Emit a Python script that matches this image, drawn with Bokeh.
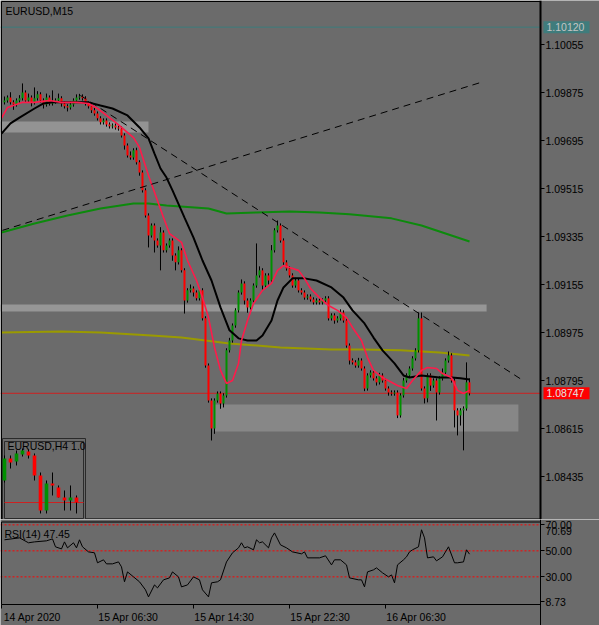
from bokeh.plotting import figure
from bokeh.layouts import column
from bokeh.models import Range1d, FixedTicker, Label, ColumnDataSource, PrintfTickFormatter
from bokeh.embed import file_html
from bokeh.resources import INLINE

# ---------------- data ----------------
title_main = "EURUSD,M15"
title_mini = "EURUSD,H4 1.0"
rsi_title = "RSI(14) 47.45"
level_top_price = 1.10120
current_price = 1.08747

# M15 closes in points (1e-5)
open_first_pts = 109838
close_pts = [
    109845, 109856, 109838, 109830, 109845, 109853, 109875, 109845, 109856, 109838,
    109853, 109868, 109845, 109830, 109856, 109834, 109841, 109845,
    109853, 109834, 109823, 109819, 109830, 109845, 109856, 109860, 109853, 109834,
    109823, 109808, 109796, 109778, 109763, 109770, 109755, 109748, 109751, 109744, 109740,
    109714, 109676, 109639, 109631, 109658, 109613, 109575, 109508, 109414, 109339, 109376, 109320,
    109301, 109350, 109283, 109301, 109320, 109264, 109238, 109283, 109208, 109095, 109133,
    109140, 109125, 109103, 109133, 109028, 108851, 108720, 108615, 108720, 108746, 108709,
    108739, 108908, 108945, 109001, 109058, 109125, 109159, 109095, 109069, 109095, 109151,
    109189, 109208, 109151, 109189, 109170,
    109283, 109358, 109376, 109320, 109238, 109215, 109189, 109151, 109170, 109133, 109125,
    109106, 109110, 109099, 109088, 109095, 109088, 109095, 109103,
    109028, 109039, 109020, 109028, 109050, 109020, 108926, 108870, 108863, 108851, 108870, 108840,
    108765, 108814, 108825, 108803, 108788, 108814, 108795, 108765, 108750, 108746, 108750,
    108664, 108739, 108795, 108814,
    108840, 108878, 108908, 109028, 108765, 108728, 108814, 108776, 108795, 108750, 108803,
    108825, 108870, 108889, 108795,
    108683, 108664, 108683, 108690, 108788, 108747,
]
upper_wick_pts = [
    15, 8, 20, 8, 8, 12, 34, 8, 15, 8,
    41, 12, 8, 8, 15, 8, 42, 8, 18, 8,
    8, 8, 12, 8, 12, 10, 8, 8, 8, 8,
    10, 8, 8, 8, 8, 8, 8, 8, 8, 8,
    8, 8, 15, 8, 10, 8, 8, 8, 8, 8,
    8, 8, 20, 8, 8, 8, 8, 8, 15, 8,
    8, 8, 15, 8, 8, 10, 8, 8, 8, 8,
    8, 8, 8, 8, 8, 10, 8, 8, 8, 15,
    8, 8, 8, 8, 120, 15, 8, 8, 8, 20,
    8, 19, 8, 8, 8, 8, 8, 10, 8, 8,
    8, 8, 8, 8, 8, 8, 8, 8, 8, 8,
    8, 8, 12, 8, 8, 8, 8, 8, 10, 8,
    8, 8, 8, 8, 8, 10, 8, 8, 8, 8,
    8, 8, 8, 10, 8, 8, 8, 8, 22, 22,
    8, 8, 8, 8, 8, 8, 15, 8, 15, 8,
    8, 8, 8, 8, 75, 15,
]
lower_wick_pts = [
    8, 8, 8, 20, 8, 8, 8, 8, 8, 15,
    8, 8, 8, 15, 8, 8, 8, 8, 8, 12,
    8, 15, 8, 8, 8, 8, 8, 8, 8, 10,
    8, 8, 8, 8, 8, 8, 8, 8, 8, 8,
    15, 8, 8, 8, 8, 12, 8, 8, 45, 8,
    45, 8, 93, 8, 8, 8, 20, 30, 8, 8,
    49, 8, 8, 15, 8, 8, 8, 8, 8, 45,
    20, 8, 20, 15, 8, 8, 8, 8, 8, 8,
    15, 20, 8, 8, 8, 8, 20, 8, 15, 8,
    8, 8, 8, 12, 8, 8, 8, 8, 8, 8,
    8, 8, 8, 8, 8, 8, 8, 8, 8, 8,
    12, 8, 8, 8, 8, 15, 8, 8, 8, 8,
    10, 8, 8, 8, 12, 8, 8, 8, 12, 8,
    8, 10, 8, 8, 8, 8, 8, 8, 8, 8,
    19, 15, 20, 8, 105, 8, 8, 8, 8, 8,
    64, 75, 38, 150, 8, 8,
]

# moving averages (bar index, points)
red_ma_bars = [-1, 1, 3, 6, 10, 15, 19, 24, 28, 31, 34, 37, 39, 43, 45, 48, 53, 55, 59, 61,
               64, 66, 68, 70, 72, 74, 76, 78, 79, 81, 83, 86, 89, 91, 93, 95, 98, 100, 102, 105,
               108, 111, 114, 116, 119, 121, 123, 126, 131, 134, 136, 139, 141, 144, 146, 149,
               151, 153, 155]
red_ma_pts = [109779, 109819, 109826, 109838, 109838, 109845, 109838, 109838, 109834, 109815,
              109789, 109763, 109744, 109706, 109669, 109564, 109406, 109346, 109313, 109245,
              109170, 109106, 109031, 108919, 108833, 108784, 108795, 108859, 108945, 109020,
              109084, 109133, 109159, 109208, 109226, 109219, 109208, 109178, 109140, 109106,
              109076, 109058, 109031, 108994, 108945, 108881, 108833, 108806, 108776, 108765,
              108795, 108833, 108844, 108840, 108821, 108806, 108758, 108746, 108758]
black_ma_bars = [-1, 2, 5, 10, 13, 16, 21, 28, 32, 36, 41, 45, 48, 50, 52, 54, 56, 60, 63, 66,
                 69, 72, 75, 78, 81, 84, 86, 89, 91, 93, 96, 100, 104, 109, 113, 116, 120, 123,
                 126, 130, 133, 135, 139, 142, 145, 149, 152, 155]
black_ma_pts = [109721, 109759, 109781, 109815, 109834, 109838, 109838, 109838, 109826, 109815,
                109789, 109744, 109703, 109646, 109590, 109556, 109508, 109406, 109331, 109245,
                109170, 109069, 108983, 108953, 108945, 108945, 108964, 109020, 109095, 109144,
                109178, 109178, 109170, 109144, 109106, 109058, 109009, 108956, 108908, 108859,
                108814, 108806, 108814, 108810, 108806, 108806, 108803, 108799]
green_ma_bars = [-1, 10, 21, 32, 43, 48, 54, 68, 74, 84, 95, 105, 115, 129, 139, 149, 155]
green_ma_pts = [109350, 109384, 109414, 109440, 109459, 109459, 109451, 109440, 109421, 109425,
                109429, 109425, 109418, 109403, 109376, 109339, 109316]
olive_ma_bars = [-1, 19, 32, 49, 59, 75, 92, 109, 119, 132, 145, 155]
olive_ma_pts = [108975, 108979, 108975, 108964, 108956, 108934, 108919, 108911, 108911, 108908,
                108900, 108889]

# trend lines (bar, price)
trend_up_bars = [-0.7, 159.7]
trend_up_prices = [1.09358, 1.09916]
trend_down_bars = [25.3, 172.3]
trend_down_prices = [1.09864, 1.08799]

# rectangles (bar start/end, price low/high)
zone_left = [-5, -5, 69.7]
zone_right = [48.0, 160.7, 171.3]
zone_low = [1.09725, 1.09054, 1.08604]
zone_high = [1.09766, 1.09080, 1.08705]

# RSI(14)
rsi_bars = [0, 5, 8, 10, 14, 16, 17, 19, 20, 21, 23, 24, 25, 26, 28, 30, 31, 33, 34, 36, 38, 39,
            40, 41, 43, 45, 47, 48, 50, 51, 53, 55, 56, 58, 59, 61, 63, 65, 66, 68, 69, 71, 72,
            74, 76, 78, 79, 80, 81, 83, 84, 85, 86, 88, 89, 90, 92, 94, 96, 99, 100, 101, 105,
            107, 109, 110, 112, 114, 115, 118, 119, 120, 121, 123, 124, 126, 128, 129, 130, 131,
            133, 134, 135, 136, 138, 139, 140, 141, 143, 144, 146, 148, 150, 151, 153, 154, 155]
rsi_vals = [58.5, 60.0, 56.2, 56.9, 57.7, 59.2, 53.1, 51.5, 56.9, 52.3, 56.2, 52.3, 58.5, 53.1,
            49.2, 48.5, 40.8, 43.1, 40.0, 40.0, 41.5, 37.7, 26.2, 33.8, 30.0, 26.2, 20.0, 14.6,
            23.8, 21.5, 27.7, 29.2, 33.8, 30.0, 22.3, 23.8, 30.0, 27.7, 20.0, 14.6, 25.4, 26.2,
            27.7, 41.5, 48.5, 52.3, 56.2, 52.3, 53.1, 50.8, 58.5, 56.2, 56.9, 52.3, 60.0, 63.8,
            54.6, 52.3, 49.2, 47.7, 49.2, 44.6, 44.6, 46.2, 39.2, 43.1, 43.1, 39.2, 29.2, 27.7,
            27.7, 22.3, 33.8, 35.4, 36.9, 33.1, 30.0, 31.5, 25.4, 39.2, 43.1, 45.4, 49.2, 50.8,
            53.1, 66.2, 60.0, 44.6, 45.4, 42.3, 45.4, 53.1, 40.8, 40.8, 41.5, 50.8, 47.45]
rsi_levels = [70.0, 50.0, 30.0]
rsi_min_label, rsi_max_label = "8.73", "70.69"

# H4 inset candles
mini_open = [1.09242, 1.09737, 1.09670, 1.09827, 1.09895, 1.09805, 1.09355, 1.08567, 1.09175,
             1.09085, 1.08860, 1.08792, 1.08860]
mini_close = [1.09737, 1.09647, 1.09850, 1.09917, 1.09805, 1.09355, 1.08567, 1.09175, 1.09130,
              1.08860, 1.08792, 1.08860, 1.08747]
mini_high = [1.09805, 1.09805, 1.09917, 1.09962, 1.09940, 1.09850, 1.09422, 1.09242, 1.09422,
             1.09130, 1.09017, 1.09130, 1.08905]
mini_low = [1.09197, 1.09512, 1.09580, 1.09782, 1.09737, 1.09242, 1.08500, 1.08500, 1.08905,
            1.08860, 1.08567, 1.08567, 1.08500]

price_ticks = [1.08435, 1.08615, 1.08795, 1.08975, 1.09155, 1.09335, 1.09515, 1.09695, 1.09875, 1.10055]
time_ticks = [-1, 31, 63, 95, 127]
time_labels = ["14 Apr 2020", "15 Apr 06:30", "15 Apr 14:30", "15 Apr 22:30", "16 Apr 06:30"]
rsi_ticks = [30.0, 50.0, 70.0]
rsi_tick_labels = ["30.00", "50.00", "70.00"]

# ---------------- layout / styles ----------------
BG = "#6b6b6b"
FONT = "Liberation Sans"
FS = "10.5px"
BULL = "#009000"
BEAR = "#ff0000"
TEAL = "#3c7d7d"
PT = 1e5
X0, X1 = -1.3333, 198.3333          # bar range across the whole 599 px canvas (3 px per bar)
AXIS_BAR = 178.667                 # bar position of the price scale line (x = 540 px)
LABEL_SHIFT = 10.3                 # time labels are drawn left-aligned after their tick
PPX = 0.0000375                    # price per pixel

closes = [v / PT for v in close_pts]
opens = [open_first_pts / PT] + closes[:-1]
highs = [max(o, c) + u / PT for o, c, u in zip(opens, closes, upper_wick_pts)]
lows = [min(o, c) - d / PT for o, c, d in zip(opens, closes, lower_wick_pts)]
idx = list(range(len(closes)))
src = ColumnDataSource(dict(
    x=idx,
    top=[max(o, c) for o, c in zip(opens, closes)],
    bottom=[min(o, c) for o, c in zip(opens, closes)],
    high=highs, low=lows,
    color=[BULL if c >= o else BEAR for o, c in zip(opens, closes)],
))

def style_axis(ax):
    ax.major_label_text_font = FONT
    ax.major_label_text_font_size = FS
    ax.major_label_text_color = "black"
    ax.major_tick_out = 4
    ax.major_tick_in = 0
    ax.minor_tick_out = 0
    ax.minor_tick_in = 0
    ax.major_tick_line_color = "black"
    ax.minor_tick_line_color = "black"

def txt(fig, x, y, s, color="black", xu="screen", yu="screen"):
    fig.add_layout(Label(x=x, y=y, text=s, x_units=xu, y_units=yu, text_font=FONT,
                         text_font_size=FS, text_color=color, text_baseline="middle",
                         text_align="left"))

Y_LO, Y_HI = 1.0827375, 1.1022
p = figure(width=599, height=519,
           x_range=Range1d(X0, X1), y_range=Range1d(Y_LO, Y_HI),
           output_backend="svg", toolbar_location=None,
           x_axis_location=None, y_axis_location="right",
           min_border_left=0, min_border_right=0, min_border_top=0, min_border_bottom=0,
           background_fill_color=BG, border_fill_color=BG, outline_line_color=None)
p.grid.visible = False
ya = p.yaxis[0]
ya.fixed_location = AXIS_BAR
ya.ticker = FixedTicker(ticks=price_ticks)
ya.formatter = PrintfTickFormatter(format="%.5f")
style_axis(ya)
ya.major_label_standoff = 1
ya.axis_line_width = 2
ya.axis_line_color = "black"

# zones
p.quad(left=zone_left, right=zone_right, bottom=zone_low, top=zone_high,
       fill_color=["#939393", "#969696", "#878787"], line_color=None)

# horizontal levels
p.segment(x0=[X0, X0], y0=[level_top_price, current_price], x1=[AXIS_BAR, AXIS_BAR],
          y1=[level_top_price, current_price], line_color=[TEAL, "#cc2222"], line_width=1)

# moving averages
p.line(olive_ma_bars, [v / PT for v in olive_ma_pts], line_color="#9a9a00", line_width=2)
p.line(green_ma_bars, [v / PT for v in green_ma_pts], line_color="#0c8a0c", line_width=2)

# candles
p.segment(x0="x", y0="low", x1="x", y1="high", source=src, line_color="black", line_width=1)
p.vbar(x="x", width=0.67, top="top", bottom="bottom", fill_color="color", line_color=None, source=src)

p.line(black_ma_bars, [v / PT for v in black_ma_pts], line_color="black", line_width=2)
p.line(red_ma_bars, [v / PT for v in red_ma_pts], line_color="#ff1a4a", line_width=1.6)

# trend lines
p.line(trend_up_bars, trend_up_prices, line_color="black", line_width=1, line_dash="7 5")
p.line(trend_down_bars, trend_down_prices, line_color="black", line_width=1, line_dash="7 5")

# chart frame (left of the price scale)
p.quad(left=[-1.0], right=[AXIS_BAR], bottom=[Y_LO + 0.5 * PPX], top=[Y_HI - 1 * PPX],
       fill_color=None, line_color="black", line_width=1)

# price boxes on the scale
p.quad(left=[AXIS_BAR + 1.0] * 2, right=[AXIS_BAR + 16.33] * 2,
       bottom=[level_top_price - 6 * PPX, current_price - 6 * PPX],
       top=[level_top_price + 6 * PPX, current_price + 6 * PPX],
       fill_color=["#3f7c7c", "#ff0000"], line_color=None)
txt(p, AXIS_BAR + 2.0, level_top_price, "%.5f" % level_top_price, color="#c4c4c4", xu="data", yu="data")
txt(p, AXIS_BAR + 2.0, current_price, "%.5f" % current_price, color="#e4e4e4", xu="data", yu="data")

# H4 inset using extra ranges
p.extra_x_ranges = {"mx": Range1d(-0.6667, 99.1667)}
p.extra_y_ranges = {"my": Range1d(1.083645, 1.20042)}
p.quad(left=[-0.333], right=[13.5], bottom=[1.0830], top=[1.10187], x_range_name="mx", y_range_name="my",
       fill_color=BG, line_color="#2a2a2a", line_width=1)
p.quad(left=[0.0], right=[13.17], bottom=[1.08387], top=[1.10120], x_range_name="mx", y_range_name="my",
       fill_color=None, line_color="#2a2a2a", line_width=1)
mj = list(range(len(mini_close)))
p.segment(x0=[0.0], y0=[current_price], x1=[13.17], y1=[current_price], x_range_name="mx", y_range_name="my",
          line_color="#cc2222", line_width=1)
p.segment(x0=mj, y0=mini_low, x1=mj, y1=mini_high, x_range_name="mx", y_range_name="my",
          line_color="black", line_width=1)
p.vbar(x=mj, width=0.6, top=[max(o, c) for o, c in zip(mini_open, mini_close)],
       bottom=[min(o, c) for o, c in zip(mini_open, mini_close)],
       fill_color=[BULL if c >= o else BEAR for o, c in zip(mini_open, mini_close)],
       line_color=None, x_range_name="mx", y_range_name="my")

txt(p, 5, 509, title_main)
txt(p, 7, 74, title_mini)

# ---------------- RSI pane ----------------
R_LO, R_HI = -7.4231, 74.1146
RPX = 1 / 1.3
r = figure(width=599, height=106, x_range=p.x_range, y_range=Range1d(R_LO, R_HI),
           output_backend="svg", toolbar_location=None, y_axis_location="right",
           x_axis_location="below",
           min_border_left=0, min_border_right=0, min_border_top=0, min_border_bottom=0,
           background_fill_color=BG, border_fill_color=BG, outline_line_color=None)
r.grid.visible = False
r.segment(x0=[X0] * 3, y0=rsi_levels, x1=[AXIS_BAR] * 3, y1=rsi_levels,
          line_color="#ff0000", line_width=1, line_dash="2 2")
r.line(rsi_bars, rsi_vals, line_color="black", line_width=1)
r.quad(left=[-1.0], right=[AXIS_BAR], bottom=[8.73], top=[R_HI - 2.5 * RPX],
       fill_color=None, line_color="black", line_width=1)

ry = r.yaxis[0]
ry.fixed_location = AXIS_BAR
ry.ticker = FixedTicker(ticks=rsi_ticks + [8.73 + 3 * RPX])
ry.major_label_overrides = dict(zip(rsi_ticks + [8.73 + 3 * RPX], rsi_tick_labels + [rsi_min_label]))
style_axis(ry)
ry.major_label_standoff = 1
ry.axis_line_color = "black"

rx = r.xaxis[0]
rx.fixed_location = 8.73
label_pos = [t + LABEL_SHIFT for t in time_ticks]
rx.ticker = FixedTicker(ticks=label_pos, minor_ticks=time_ticks)
rx.major_label_overrides = dict(zip(label_pos, time_labels))
style_axis(rx)
rx.major_tick_out = 0
rx.minor_tick_out = 4
rx.major_label_standoff = 2
rx.axis_line_color = None

txt(r, 4, 92, rsi_title)
txt(r, AXIS_BAR + 1.7, 8.73 + 56.92, rsi_max_label, xu="data", yu="data")

layout = column(p, r, spacing=0)
open("out.html", "w").write(file_html(layout, INLINE))
